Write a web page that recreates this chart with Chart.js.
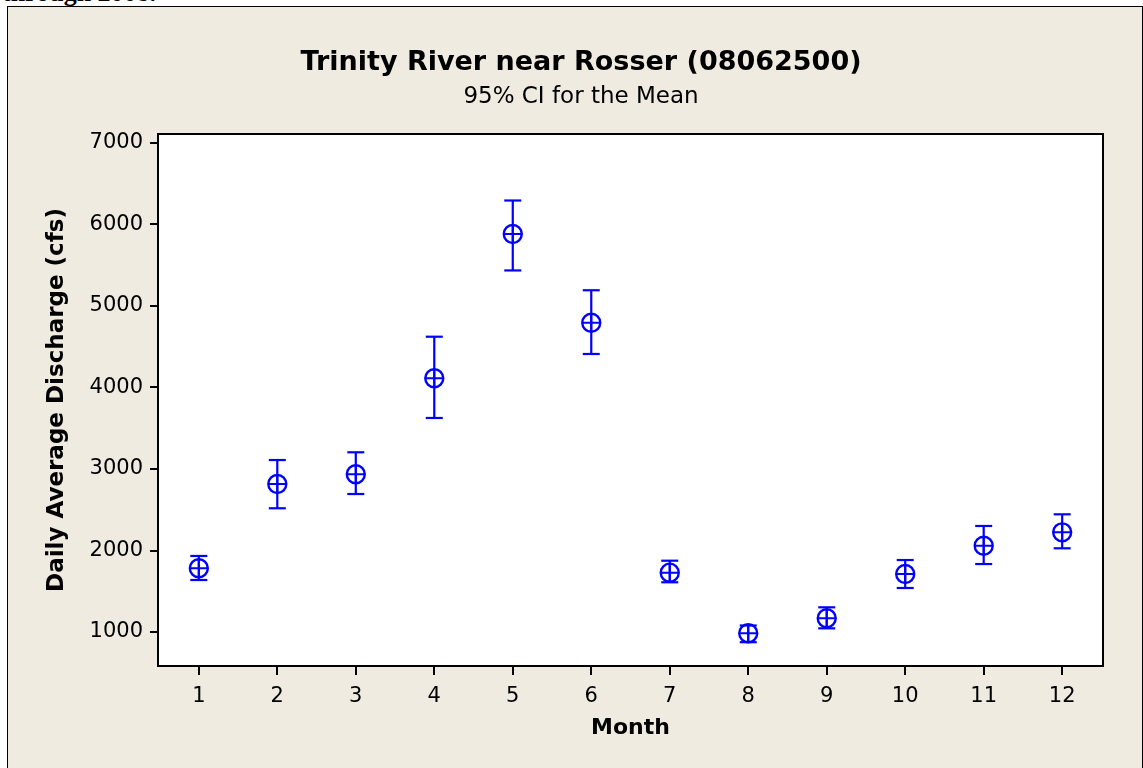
<!DOCTYPE html>
<html lang="en">
<head>
  <meta charset="UTF-8">
  <title>Trinity River near Rosser (08062500)</title>
  <script src="https://cdn.jsdelivr.net/npm/chart.js"></script>
  <style>
    html, body { margin: 0; padding: 0; background: #fff; overflow: hidden; }
    body { width: 1143px; height: 768px; position: relative; }
    .cut { position: absolute; left: 2px; top: -18px; font: bold 26px "Liberation Serif", serif; line-height: 22px; color: #000; }
    .frame { position: absolute; left: 7px; top: 6px; width: 1134px; height: 762px; background: #efebe1;
             border-left: 1px solid #000; border-top: 1px solid #000; border-right: 1px solid #000; }
    #chart { position: absolute; left: 19px; top: 0; }
  </style>
</head>
<body>
  <div class="cut">through 2008.</div>
  <div class="frame"></div>
  <canvas id="chart" width="1124" height="768"></canvas>

<script>
  // monthly mean discharge and 95% CI bounds (cfs)
  const months = [1, 2, 3, 4, 5, 6, 7, 8, 9, 10, 11, 12];
  const meanCfs = [1782, 2816, 2935, 4113, 5883, 4795, 1728, 985, 1168, 1712, 2059, 2223];
  const lowerCI = [1638, 2518, 2693, 3626, 5436, 4411, 1610, 875, 1045, 1540, 1834, 2027];
  const upperCI = [1933, 3110, 3205, 4623, 6294, 5193, 1875, 1080, 1303, 1883, 2301, 2444];
  const yTicks = [1000, 2000, 3000, 4000, 5000, 6000, 7000];

  const blue = '#0000ff';
  const family = "'DejaVu Sans', sans-serif";

  // vertical CI segments, broken by null points
  const ciSegments = [];
  months.forEach((m, i) => {
    ciSegments.push({ x: m, y: lowerCI[i] }, { x: m, y: upperCI[i] }, { x: m, y: null });
  });
  const caps = months.flatMap((m, i) => [{ x: m, y: lowerCI[i] }, { x: m, y: upperCI[i] }]);
  const means = months.map((m, i) => ({ x: m, y: meanCfs[i] }));

  const plotFrame = {
    id: 'plotFrame',
    beforeDraw(chart) {
      const { ctx, chartArea: a } = chart;
      ctx.save();
      ctx.fillStyle = '#fff';
      ctx.fillRect(a.left, a.top, a.width, a.height);
      ctx.restore();
    },
    afterDraw(chart) {
      const { ctx, chartArea: a } = chart;
      ctx.save();
      ctx.strokeStyle = '#000';
      ctx.lineWidth = 2;
      ctx.strokeRect(a.left, a.top, a.width, a.height);
      ctx.restore();
    }
  };

  new Chart(document.getElementById('chart'), {
    type: 'scatter',
    data: {
      datasets: [
        {
          type: 'line',
          data: ciSegments,
          borderColor: blue,
          borderWidth: 2.2,
          pointRadius: 0,
          spanGaps: false,
          fill: false
        },
        {
          data: caps,
          pointStyle: 'line',
          pointRadius: 8.5,
          borderColor: blue,
          borderWidth: 2.2
        },
        {
          data: means,
          pointStyle: 'circle',
          pointRadius: 9,
          borderColor: blue,
          backgroundColor: 'rgba(0,0,0,0)',
          borderWidth: 2.4
        },
        {
          data: means,
          pointStyle: 'cross',
          pointRadius: 9,
          borderColor: blue,
          borderWidth: 2
        }
      ]
    },
    options: {
      responsive: false,
      devicePixelRatio: 1,
      animation: false,
      events: [],
      layout: { padding: 0 },
      plugins: {
        legend: { display: false },
        tooltip: { enabled: false },
        title: {
          display: true,
          text: 'Trinity River near Rosser (08062500)',
          color: '#000',
          font: { family, size: 27, weight: 'bold' },
          padding: { top: 47, bottom: 2 }
        },
        subtitle: {
          display: true,
          text: '95% CI for the Mean',
          color: '#000',
          font: { family, size: 23 },
          padding: { top: 2, bottom: 23 }
        }
      },
      scales: {
        x: {
          type: 'linear',
          min: 0.48,
          max: 12.52,
          afterBuildTicks: s => { s.ticks = months.map(v => ({ value: v })); },
          afterFit: s => { s.height = 102; },
          grid: { drawOnChartArea: false, drawTicks: true, tickLength: 9, color: '#000', lineWidth: 2 },
          border: { display: false },
          ticks: { color: '#000', font: { family, size: 21 }, padding: 9, callback: v => String(v) },
          title: {
            display: true,
            text: 'Month',
            color: '#000',
            font: { family, size: 22, weight: 'bold' },
            padding: { top: 0, bottom: 27 }
          }
        },
        y: {
          type: 'linear',
          min: 583,
          max: 7110,
          afterBuildTicks: s => { s.ticks = yTicks.map(v => ({ value: v })); },
          afterFit: s => { s.width = 139; },
          grid: { drawOnChartArea: false, drawTicks: true, tickLength: 8, color: '#000', lineWidth: 2 },
          border: { display: false },
          ticks: { color: '#000', font: { family, size: 21 }, padding: 7, callback: v => String(v) },
          title: {
            display: true,
            text: 'Daily Average Discharge (cfs)',
            color: '#000',
            font: { family, size: 23, weight: 'bold' },
            padding: { top: 24, bottom: 0 }
          }
        },
        yRight: {
          position: 'right',
          grid: { display: false },
          border: { display: false },
          ticks: { display: false },
          afterFit: s => { s.width = 40; }
        }
      }
    },
    plugins: [plotFrame]
  });
</script>
</body>
</html>
